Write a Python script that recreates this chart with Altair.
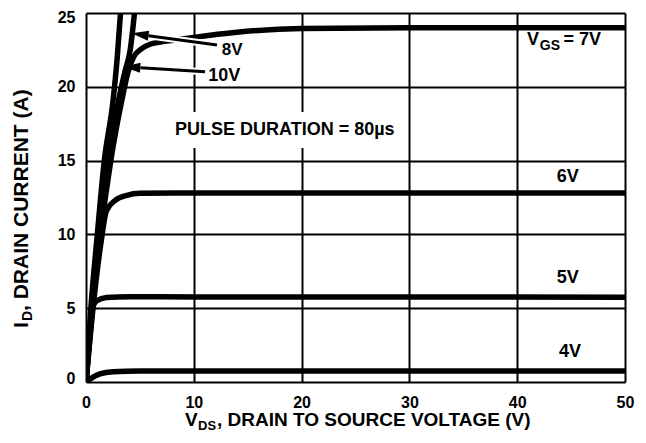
import altair as alt
import pandas as pd

FONT = "Liberation Sans"

# ---- data (V_DS in volts, I_D in amps) ----
curve_names = ["4V", "5V", "6V", "7V", "8V", "10V"]

vds_4 = [0, 0.3, 0.7, 1.3, 2.5, 5, 50]
id_4 = [0, 0.15, 0.35, 0.55, 0.7, 0.75, 0.75]

vds_5 = [0, 0.3, 0.55, 1.0, 1.9, 4, 10, 50]
id_5 = [0, 3.0, 4.9, 5.5, 5.72, 5.78, 5.76, 5.75]

vds_6 = [0, 0.65, 1.4, 1.9, 2.7, 3.8, 5, 10, 50]
id_6 = [0, 5.0, 9.5, 11.6, 12.3, 12.65, 12.78, 12.8, 12.8]

vds_7 = [0, 0.6, 1.35, 2.3, 3.3, 3.9, 4.4, 5.2, 6.0, 7.0, 8.1, 10, 14, 20, 30, 50]
id_7 = [0, 5.0, 10.0, 15.0, 19.0, 21.0, 22.0, 22.6, 22.9, 23.05, 23.15, 23.35, 23.7, 23.95, 24.0, 24.0]

vds_8 = [0, 0.55, 1.25, 2.1, 3.0, 3.6, 4.1, 4.5]
id_8 = [0, 5.0, 10.0, 15.0, 19.0, 21.0, 22.5, 25.0]

vds_10 = [0, 0.45, 1.05, 1.7, 2.5, 2.9, 3.2]
id_10 = [0, 5.0, 10.0, 15.0, 19.0, 22.0, 25.0]

x_ticks = [0, 10, 20, 30, 40, 50]
y_ticks = [0, 5, 10, 15, 20, 25]

# arrows: (tail x, tail y, tip x, tip y, head base x, head base y)
arrow_8v = [12.15, 22.83, 4.24, 23.62, 5.8, 23.46]
arrow_10v = [11.04, 21.02, 3.46, 21.36, 5.04, 21.29]

rows = []
for name, xs, ys in zip(curve_names,
                        [vds_4, vds_5, vds_6, vds_7, vds_8, vds_10],
                        [id_4, id_5, id_6, id_7, id_8, id_10]):
    for i, (a, b) in enumerate(zip(xs, ys)):
        rows.append({"curve": name, "i": i, "vds": a, "id": b})
df = pd.DataFrame(rows)

one = pd.DataFrame({"k": [0]})

xscale = alt.Scale(domain=[0, 50], nice=False, zero=True)
yscale = alt.Scale(domain=[0, 25], nice=False, zero=True)

axis_common = dict(grid=True, gridColor="black", gridWidth=2, gridOpacity=1,
                   domain=False, ticks=False, labelFont=FONT, labelFontSize=16,
                   labelFontWeight="bold", labelColor="black", title=None)

lines = alt.Chart(df).mark_line(color="black", strokeWidth=5.5, interpolate="monotone",
                                clip=True).encode(
    x=alt.X("vds:Q", scale=xscale,
            axis=alt.Axis(values=x_ticks, labelPadding=12, labelFlush=False, **axis_common)),
    y=alt.Y("id:Q", scale=yscale,
            axis=alt.Axis(values=y_ticks, labelPadding=11, labelFlush=True,
                          labelFlushOffset=4, **axis_common)),
    detail="curve:N",
    order="i:Q",
)

# white box behind the pulse-duration note (interrupts gridlines as in the reference)
note_box = alt.Chart(one).mark_rect(color="white").encode(
    x=alt.datum(8.0), x2=alt.datum(29.5), y=alt.datum(15.85), y2=alt.datum(18.3)
)


def arrow(a, angle):
    halo = alt.Chart(one).mark_rule(color="white", strokeWidth=7).encode(
        x=alt.datum(a[0]), y=alt.datum(a[1]), x2=alt.datum(a[4]), y2=alt.datum(a[5]))
    shaft = alt.Chart(one).mark_rule(color="black", strokeWidth=3).encode(
        x=alt.datum(a[0]), y=alt.datum(a[1]), x2=alt.datum(a[4]), y2=alt.datum(a[5]))
    head = alt.Chart(one).mark_point(shape="M0,0L2,-0.6L2,0.6Z", filled=True, color="black",
                                     opacity=1, size=289, angle=angle).encode(
        x=alt.datum(a[2]), y=alt.datum(a[3]))
    return [halo, shaft, head]


def dtext(s, x, y, size=18, align="left"):
    return alt.Chart(one).mark_text(text=s, font=FONT, fontSize=size, fontWeight="bold",
                                    color="black", align=align, baseline="alphabetic").encode(
        x=alt.datum(x), y=alt.datum(y))


def ptext(s, x, y, size=19, angle=0):
    kw = dict(text=s, font=FONT, fontSize=size, fontWeight="bold", color="black",
              align="left", baseline="alphabetic")
    if angle:
        kw["angle"] = angle
    return alt.Chart(one).mark_text(**kw).encode(x=alt.value(x), y=alt.value(y))


labels = [
    dtext("V", 40.9, 22.83),
    dtext("GS", 42.1, 22.5, size=14),
    dtext("= 7V", 44.3, 22.83),
    dtext("6V", 44.7, 13.55, align="center"),
    dtext("5V", 44.7, 6.7, align="center"),
    dtext("4V", 44.9, 1.7, align="center"),
    dtext("8V", 12.59, 22.15, size=17),
    dtext("10V", 11.35, 20.4),
    dtext("PULSE DURATION = 80\u00b5s", 8.26, 16.73),
]

titles = [
    # x axis title: V_DS, DRAIN TO SOURCE VOLTAGE (V)
    ptext("V", 99, 413),
    ptext("DS", 112, 417, size=13),
    ptext(", DRAIN TO SOURCE VOLTAGE (V)", 131, 413),
    # y axis title: I_D, DRAIN CURRENT (A)
    ptext("I", -58, 315, size=21, angle=270),
    ptext("D", -54, 308, size=14, angle=270),
    ptext(", DRAIN CURRENT (A)", -58, 298, size=21, angle=270),
]

layers = [lines, note_box] + arrow(arrow_8v, 8) + arrow(arrow_10v, 3.5) + labels + titles

chart = alt.layer(*layers).properties(
    width=539, height=369,
    padding={"left": 78, "top": 5, "right": 13, "bottom": 54},
    autosize=alt.AutoSizeParams(type="none"),
).configure_view(
    stroke="black", strokeWidth=3
).configure(background="white")

chart.save("out.html", embed_options={"renderer": "svg", "actions": False})
